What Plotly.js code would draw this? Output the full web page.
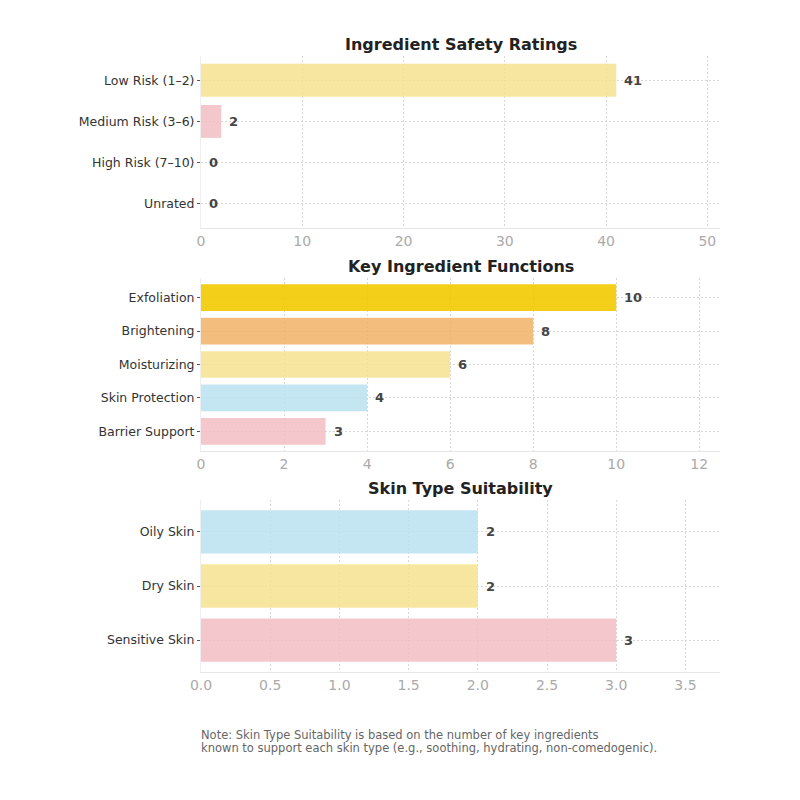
<!DOCTYPE html>
<html>
<head>
<meta charset="utf-8">
<script src="https://cdn.plot.ly/plotly-3.0.1.min.js"></script>
<style>
  html, body { margin: 0; padding: 0; background: #fff; }
  #chart { width: 800px; height: 800px; }
</style>
</head>
<body>
<div id="chart"></div>
<script>
// Panel 1: safety rating buckets
const safetyLabels = ["Low Risk (1–2)", "Medium Risk (3–6)", "High Risk (7–10)", "Unrated"];
const safetyCounts = [41, 2, 0, 0];
const safetyColors = ["rgba(246,226,143,0.85)", "rgba(242,189,195,0.85)", "rgba(242,189,195,0.85)", "rgba(200,200,200,0.85)"];

// Panel 2: ingredient functions
const functionLabels = ["Exfoliation", "Brightening", "Moisturizing", "Skin Protection", "Barrier Support"];
const functionCounts = [10, 8, 6, 4, 3];
const functionColors = ["rgba(243,202,0,0.9)", "rgba(240,178,102,0.85)", "rgba(246,226,143,0.85)", "rgba(186,226,240,0.85)", "rgba(242,189,195,0.85)"];

// Panel 3: skin type suitability
const skinLabels = ["Oily Skin", "Dry Skin", "Sensitive Skin"];
const skinCounts = [2, 2, 3];
const skinColors = ["rgba(186,226,240,0.85)", "rgba(246,226,143,0.85)", "rgba(242,189,195,0.85)"];

const panelTitles = ["Ingredient Safety Ratings", "Key Ingredient Functions", "Skin Type Suitability"];
const xTicks = [[0, 10, 20, 30, 40, 50], [0, 2, 4, 6, 8, 10, 12], [0, 0.5, 1, 1.5, 2, 2.5, 3, 3.5]];
const xTickText = [["0", "10", "20", "30", "40", "50"], ["0", "2", "4", "6", "8", "10", "12"],
                   ["0.0", "0.5", "1.0", "1.5", "2.0", "2.5", "3.0", "3.5"]];
const noteLines = ["Note: Skin Type Suitability is based on the number of key ingredients",
                   "known to support each skin type (e.g., soothing, hydrating, non-comedogenic)."];

const FONT = "DejaVu Sans, Verdana, sans-serif";
const GRID = "#d8d8d8";
const panels = [
  { labels: safetyLabels, values: safetyCounts, colors: safetyColors, domain: [0.715, 0.93] },
  { labels: functionLabels, values: functionCounts, colors: functionColors, domain: [0.43625, 0.6525] },
  { labels: skinLabels, values: skinCounts, colors: skinColors, domain: [0.16, 0.375] }
];

const traces = [];
const annotations = [];
const layout = {
  width: 800, height: 800,
  margin: { l: 201, r: 80, t: 0, b: 0 },
  paper_bgcolor: "#fff", plot_bgcolor: "#fff",
  showlegend: false,
  font: { family: FONT, color: "#444" },
  bargap: 0.2
};

panels.forEach((p, i) => {
  const n = i + 1;
  const xa = n === 1 ? "x" : "x" + n;
  const ya = n === 1 ? "y" : "y" + n;
  const maxV = Math.max(...p.values);
  traces.push({
    type: "bar", orientation: "h",
    x: p.values, y: p.labels,
    xaxis: xa, yaxis: ya,
    width: 0.8,
    marker: { color: p.colors, line: { width: 0 } },
    hoverinfo: "skip"
  });
  layout["xaxis" + (n === 1 ? "" : n)] = {
    domain: [0, 1], anchor: ya,
    range: [0, maxV * 1.25],
    tickvals: xTicks[i], ticktext: xTickText[i],
    tickfont: { family: FONT, size: 14, color: "#aaaaaa" },
    ticks: "", ticklen: 0,
    showgrid: true, gridcolor: GRID, griddash: "2px,2px", gridwidth: 1,
    showline: true, linecolor: "#e6e6e6", linewidth: 1,
    zeroline: false, fixedrange: true
  };
  layout["yaxis" + (n === 1 ? "" : n)] = {
    domain: p.domain, anchor: xa,
    type: "category",
    categoryorder: "array", categoryarray: p.labels,
    range: [p.labels.length - 1 + 0.59, -0.59],
    tickfont: { family: FONT, size: 12.5, color: "#333" },
    ticks: "outside", ticklen: 3, tickcolor: "#555", tickwidth: 1,
    showgrid: true, gridcolor: GRID, griddash: "2px,2px", gridwidth: 1,
    showline: true, linecolor: "#eeeeee", linewidth: 1,
    zeroline: false, fixedrange: true
  };
  // panel heading
  annotations.push({
    text: "<b>" + panelTitles[i] + "</b>",
    xref: xa + " domain", yref: ya + " domain",
    x: 0.5, y: 1, yshift: 0, xanchor: "center", yanchor: "bottom",
    showarrow: false,
    font: { family: FONT, size: 16, color: "#222" }
  });
  // value labels at the end of each bar
  p.values.forEach((v, k) => {
    annotations.push({
      text: "<b>" + v + "</b>",
      x: v, y: p.labels[k], xref: xa, yref: ya,
      xanchor: "left", yanchor: "middle", xshift: 6,
      showarrow: false,
      font: { family: FONT, size: 13, color: "#444" }
    });
  });
});

// footnote, one annotation per line
noteLines.forEach((line, k) => {
  annotations.push({
    text: line,
    xref: "paper", yref: "paper",
    x: 0, xshift: -2, y: (800 - 735 - k * 13) / 800, xanchor: "left", yanchor: "middle", align: "left",
    showarrow: false,
    font: { family: FONT, size: 11.5, color: "#666" }
  });
});
layout.annotations = annotations;

Plotly.newPlot("chart", traces, layout, { displayModeBar: false, staticPlot: true });
</script>
</body>
</html>
